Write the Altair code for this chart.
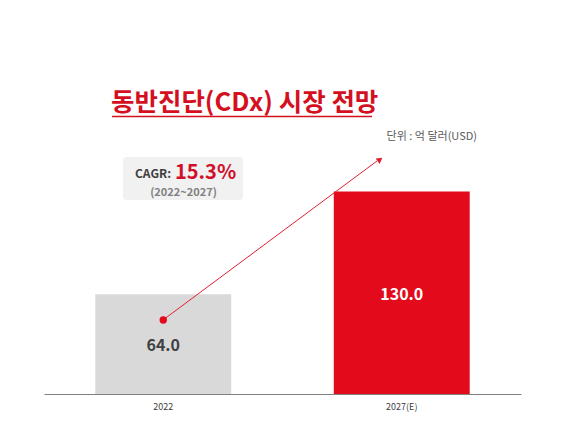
import altair as alt
import pandas as pd

categories = ["2022", "2027(E)"]
values = [64.0, 130.0]
bar_colors = ["#d9d9d9", "#e30b1b"]
label_colors = ["#404040", "#ffffff"]

title_text = "동반진단(CDx) 시장 전망"
unit_text = "단위 : 억 달러(USD)"
cagr_label = "CAGR:"
cagr_value = "15.3%"
cagr_period = "(2022~2027)"
arrow_start_value = 47.5

FONT = "Noto Sans CJK KR"
RED = "#d4101f"

df = pd.DataFrame({
    "year": categories,
    "value": values,
    "color": bar_colors,
    "lcolor": label_colors,
    "label": [f"{v:.1f}" for v in values],
})

x_enc = alt.X("year:N", sort=categories,
              scale=alt.Scale(paddingInner=0.43, paddingOuter=0.215),
              axis=alt.Axis(title=None, labelAngle=0, ticks=False, labelPadding=8,
                            labelFontSize=9, labelColor="#404040", labelFont=FONT,
                            domainColor="#808080", domainWidth=1))
y_scale = alt.Scale(domain=[0, 240], nice=False)

base = alt.Chart(df)

bars = base.mark_bar().encode(
    x=x_enc,
    y=alt.Y("value:Q", scale=y_scale, axis=None),
    color=alt.Color("color:N", scale=None),
)

labels = base.transform_calculate(mid="datum.value / 2").mark_text(
    font=FONT, fontSize=16, fontWeight="bold", dy=2
).encode(
    x=alt.X("year:N", sort=categories),
    y=alt.Y("mid:Q", scale=y_scale),
    text="label:N",
    color=alt.Color("lcolor:N", scale=None),
)

start_df = pd.DataFrame({"year": [categories[0]], "v": [arrow_start_value]})
dot = alt.Chart(start_df).mark_circle(size=55, color="#e30b1b", opacity=1).encode(
    x=alt.X("year:N", sort=categories),
    y=alt.Y("v:Q", scale=y_scale),
)

one = pd.DataFrame({"k": [0]})
arrow_line = alt.Chart(one).mark_rule(color="#e02030", strokeWidth=1).encode(
    x=alt.value(119), y=alt.value(300), x2=alt.value(333), y2=alt.value(141)
)
arrow_head = alt.Chart(one).mark_point(shape="triangle-up", filled=True, size=45,
                                       color="#e02030", opacity=1, angle=53.5).encode(
    x=alt.value(336), y=alt.value(139.5)
)

title = alt.Chart(pd.DataFrame({"t": [title_text]})).mark_text(
    font=FONT, fontSize=25.5, fontWeight="bold", color=RED, align="left", baseline="middle"
).encode(x=alt.value(67), y=alt.value(83), text="t:N")
underline = alt.Chart(one).mark_rule(color=RED, strokeWidth=1.5).encode(
    x=alt.value(68), x2=alt.value(328), y=alt.value(96.5)
)

unit = alt.Chart(pd.DataFrame({"t": [unit_text]})).mark_text(
    font=FONT, fontSize=11, color="#595959", align="right", baseline="middle"
).encode(x=alt.value(433), y=alt.value(117), text="t:N")

box = alt.Chart(one).mark_rect(color="#f1f1f1", cornerRadius=3).encode(
    x=alt.value(79), x2=alt.value(199), y=alt.value(137), y2=alt.value(180)
)
cagr1 = alt.Chart(pd.DataFrame({"t": [cagr_label]})).mark_text(
    font=FONT, fontSize=12, fontWeight="bold", color="#404040", align="left", baseline="alphabetic"
).encode(x=alt.value(91), y=alt.value(158), text="t:N")
cagr2 = alt.Chart(pd.DataFrame({"t": [cagr_value]})).mark_text(
    font=FONT, fontSize=20, fontWeight="bold", color="#d0102a", align="left", baseline="alphabetic"
).encode(x=alt.value(131), y=alt.value(158.5), text="t:N")
cagr3 = alt.Chart(pd.DataFrame({"t": [cagr_period]})).mark_text(
    font=FONT, fontSize=11, fontWeight="bold", color="#808080", align="center", baseline="middle"
).encode(x=alt.value(139.5), y=alt.value(173), text="t:N")

chart = alt.layer(
    bars, labels, box, cagr1, cagr2, cagr3, arrow_line, arrow_head, dot,
    title, underline, unit
).properties(
    width=477, height=374,
    autosize=alt.AutoSizeParams(type="none"),
    padding={"left": 36, "top": 12, "right": 40, "bottom": 25},
    background="white",
).configure_view(stroke=None)

chart.save("out.html", embed_options={"renderer": "svg", "actions": False})
